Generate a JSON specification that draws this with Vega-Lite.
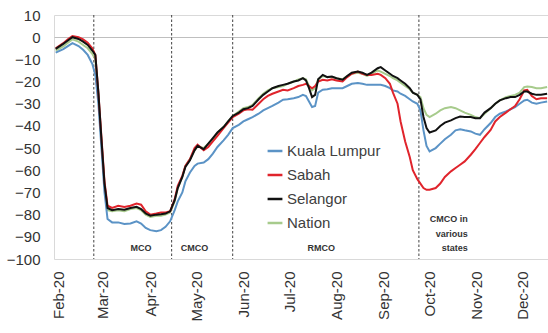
{
  "$schema": "https://vega.github.io/schema/vega-lite/v6.json",
  "width": 494,
  "height": 244,
  "autosize": "none",
  "padding": {"left": 54, "top": 15, "right": 0, "bottom": 74},
  "background": "white",
  "config": {
    "font": "Liberation Sans",
    "view": {"stroke": "#d9d9d9", "strokeWidth": 1},
    "axis": {"labelFont": "Liberation Sans", "labelColor": "#333333", "labelFontSize": 15}
  },
  "datasets": {
    "mob": [
      {"date": "2020-01-30", "Kuala Lumpur": -7, "Sabah": -5, "Selangor": -5.3, "Nation": -6},
      {"date": "2020-02-04", "Kuala Lumpur": -5.4, "Sabah": -2.7, "Selangor": -3, "Nation": -4.2},
      {"date": "2020-02-07", "Kuala Lumpur": -4, "Sabah": -1, "Selangor": -1.5, "Nation": -2.5},
      {"date": "2020-02-10", "Kuala Lumpur": -2.7, "Sabah": 0.5, "Selangor": 0, "Nation": -1},
      {"date": "2020-02-14", "Kuala Lumpur": -4, "Sabah": 0, "Selangor": -0.8, "Nation": -2},
      {"date": "2020-02-17", "Kuala Lumpur": -5.7, "Sabah": -1, "Selangor": -2, "Nation": -3.5},
      {"date": "2020-02-20", "Kuala Lumpur": -8, "Sabah": -2.5, "Selangor": -3.5, "Nation": -5},
      {"date": "2020-02-23", "Kuala Lumpur": -12, "Sabah": -5, "Selangor": -6, "Nation": -7.5},
      {"date": "2020-02-25", "Kuala Lumpur": -17, "Sabah": -8, "Selangor": -8, "Nation": -10},
      {"date": "2020-02-27", "Kuala Lumpur": -30, "Sabah": -25, "Selangor": -25, "Nation": -27},
      {"date": "2020-02-29", "Kuala Lumpur": -50, "Sabah": -45, "Selangor": -46, "Nation": -47},
      {"date": "2020-03-02", "Kuala Lumpur": -70, "Sabah": -65, "Selangor": -66, "Nation": -67},
      {"date": "2020-03-04", "Kuala Lumpur": -82, "Sabah": -76, "Selangor": -77, "Nation": -78},
      {"date": "2020-03-07", "Kuala Lumpur": -83.5, "Sabah": -77, "Selangor": -78, "Nation": -78.5},
      {"date": "2020-03-11", "Kuala Lumpur": -83.5, "Sabah": -76, "Selangor": -77.5, "Nation": -78},
      {"date": "2020-03-15", "Kuala Lumpur": -84.2, "Sabah": -76.5, "Selangor": -77.8, "Nation": -78.5},
      {"date": "2020-03-19", "Kuala Lumpur": -84, "Sabah": -76, "Selangor": -77, "Nation": -77.5},
      {"date": "2020-03-23", "Kuala Lumpur": -83, "Sabah": -75, "Selangor": -76.5, "Nation": -77},
      {"date": "2020-03-26", "Kuala Lumpur": -84, "Sabah": -75.5, "Selangor": -77.5, "Nation": -78},
      {"date": "2020-03-29", "Kuala Lumpur": -86, "Sabah": -78.5, "Selangor": -79.5, "Nation": -80},
      {"date": "2020-04-01", "Kuala Lumpur": -87, "Sabah": -80, "Selangor": -80.5, "Nation": -81},
      {"date": "2020-04-05", "Kuala Lumpur": -87.5, "Sabah": -79.5, "Selangor": -80, "Nation": -80.5},
      {"date": "2020-04-08", "Kuala Lumpur": -87, "Sabah": -79, "Selangor": -79.8, "Nation": -80.5},
      {"date": "2020-04-11", "Kuala Lumpur": -85.5, "Sabah": -79, "Selangor": -79.5, "Nation": -80},
      {"date": "2020-04-14", "Kuala Lumpur": -83, "Sabah": -78.5, "Selangor": -78.5, "Nation": -79},
      {"date": "2020-04-17", "Kuala Lumpur": -78, "Sabah": -73, "Selangor": -73.5, "Nation": -74},
      {"date": "2020-04-19", "Kuala Lumpur": -74, "Sabah": -67, "Selangor": -68, "Nation": -68},
      {"date": "2020-04-22", "Kuala Lumpur": -70, "Sabah": -62.5, "Selangor": -63, "Nation": -63},
      {"date": "2020-04-24", "Kuala Lumpur": -65, "Sabah": -58, "Selangor": -58.5, "Nation": -58},
      {"date": "2020-04-27", "Kuala Lumpur": -61, "Sabah": -55, "Selangor": -55.5, "Nation": -55},
      {"date": "2020-04-30", "Kuala Lumpur": -58, "Sabah": -50, "Selangor": -51, "Nation": -51},
      {"date": "2020-05-02", "Kuala Lumpur": -57, "Sabah": -48.5, "Selangor": -49, "Nation": -49},
      {"date": "2020-05-06", "Kuala Lumpur": -56.5, "Sabah": -51, "Selangor": -50.5, "Nation": -50},
      {"date": "2020-05-09", "Kuala Lumpur": -55, "Sabah": -49.5, "Selangor": -48, "Nation": -48},
      {"date": "2020-05-12", "Kuala Lumpur": -52.5, "Sabah": -47, "Selangor": -45.5, "Nation": -46},
      {"date": "2020-05-15", "Kuala Lumpur": -49.5, "Sabah": -44.5, "Selangor": -43, "Nation": -43},
      {"date": "2020-05-19", "Kuala Lumpur": -46.5, "Sabah": -41, "Selangor": -40.5, "Nation": -40.5},
      {"date": "2020-05-22", "Kuala Lumpur": -44, "Sabah": -38.5, "Selangor": -38, "Nation": -38},
      {"date": "2020-05-25", "Kuala Lumpur": -41, "Sabah": -36, "Selangor": -35.5, "Nation": -35.5},
      {"date": "2020-05-29", "Kuala Lumpur": -39.5, "Sabah": -34.5, "Selangor": -34, "Nation": -33.5},
      {"date": "2020-06-01", "Kuala Lumpur": -38, "Sabah": -33, "Selangor": -32.5, "Nation": -32},
      {"date": "2020-06-04", "Kuala Lumpur": -37, "Sabah": -32.5, "Selangor": -32, "Nation": -31.5},
      {"date": "2020-06-07", "Kuala Lumpur": -36, "Sabah": -32.7, "Selangor": -31, "Nation": -30.5},
      {"date": "2020-06-11", "Kuala Lumpur": -34.5, "Sabah": -30, "Selangor": -28, "Nation": -27.5},
      {"date": "2020-06-14", "Kuala Lumpur": -33, "Sabah": -28, "Selangor": -26, "Nation": -25.5},
      {"date": "2020-06-17", "Kuala Lumpur": -32, "Sabah": -26.5, "Selangor": -24.5, "Nation": -24},
      {"date": "2020-06-20", "Kuala Lumpur": -31, "Sabah": -25.5, "Selangor": -23, "Nation": -23},
      {"date": "2020-06-24", "Kuala Lumpur": -29.5, "Sabah": -24.5, "Selangor": -22, "Nation": -22.5},
      {"date": "2020-06-27", "Kuala Lumpur": -28.2, "Sabah": -23.7, "Selangor": -21.5, "Nation": -22},
      {"date": "2020-06-30", "Kuala Lumpur": -28, "Sabah": -24, "Selangor": -21, "Nation": -21},
      {"date": "2020-07-04", "Kuala Lumpur": -27.5, "Sabah": -23, "Selangor": -20, "Nation": -20},
      {"date": "2020-07-07", "Kuala Lumpur": -27, "Sabah": -22, "Selangor": -19.5, "Nation": -19},
      {"date": "2020-07-10", "Kuala Lumpur": -26, "Sabah": -21.5, "Selangor": -18.5, "Nation": -18.5},
      {"date": "2020-07-12", "Kuala Lumpur": -26.5, "Sabah": -21, "Selangor": -19.5, "Nation": -19},
      {"date": "2020-07-14", "Kuala Lumpur": -29, "Sabah": -22, "Selangor": -23, "Nation": -22},
      {"date": "2020-07-16", "Kuala Lumpur": -31.5, "Sabah": -23, "Selangor": -27, "Nation": -24},
      {"date": "2020-07-18", "Kuala Lumpur": -31, "Sabah": -22, "Selangor": -26, "Nation": -23},
      {"date": "2020-07-20", "Kuala Lumpur": -25, "Sabah": -20, "Selangor": -19, "Nation": -19},
      {"date": "2020-07-23", "Kuala Lumpur": -23.7, "Sabah": -19.2, "Selangor": -17, "Nation": -17.5},
      {"date": "2020-07-26", "Kuala Lumpur": -23.5, "Sabah": -19.5, "Selangor": -18, "Nation": -18},
      {"date": "2020-07-29", "Kuala Lumpur": -23, "Sabah": -19, "Selangor": -17.7, "Nation": -18},
      {"date": "2020-08-01", "Kuala Lumpur": -23, "Sabah": -19.5, "Selangor": -18.5, "Nation": -18.5},
      {"date": "2020-08-05", "Kuala Lumpur": -23, "Sabah": -20, "Selangor": -19.2, "Nation": -19},
      {"date": "2020-08-08", "Kuala Lumpur": -22, "Sabah": -18, "Selangor": -17.5, "Nation": -17.5},
      {"date": "2020-08-11", "Kuala Lumpur": -21, "Sabah": -16.5, "Selangor": -16, "Nation": -16.5},
      {"date": "2020-08-15", "Kuala Lumpur": -20.7, "Sabah": -15.5, "Selangor": -15.5, "Nation": -16},
      {"date": "2020-08-18", "Kuala Lumpur": -21, "Sabah": -16.5, "Selangor": -16, "Nation": -16.5},
      {"date": "2020-08-21", "Kuala Lumpur": -21.5, "Sabah": -17, "Selangor": -17, "Nation": -17.5},
      {"date": "2020-08-24", "Kuala Lumpur": -21.5, "Sabah": -17, "Selangor": -16, "Nation": -16.5},
      {"date": "2020-08-28", "Kuala Lumpur": -21.5, "Sabah": -16.5, "Selangor": -14, "Nation": -15},
      {"date": "2020-08-30", "Kuala Lumpur": -21.5, "Sabah": -17, "Selangor": -13.5, "Nation": -15.5},
      {"date": "2020-09-02", "Kuala Lumpur": -22, "Sabah": -18.5, "Selangor": -15, "Nation": -16.5},
      {"date": "2020-09-05", "Kuala Lumpur": -23, "Sabah": -21, "Selangor": -16.5, "Nation": -17.5},
      {"date": "2020-09-07", "Kuala Lumpur": -24, "Sabah": -25, "Selangor": -17.5, "Nation": -18.5},
      {"date": "2020-09-10", "Kuala Lumpur": -24.5, "Sabah": -30, "Selangor": -18.5, "Nation": -19.5},
      {"date": "2020-09-12", "Kuala Lumpur": -25.5, "Sabah": -38, "Selangor": -19.5, "Nation": -20.5},
      {"date": "2020-09-15", "Kuala Lumpur": -26.5, "Sabah": -47, "Selangor": -21, "Nation": -22},
      {"date": "2020-09-18", "Kuala Lumpur": -28, "Sabah": -54, "Selangor": -23, "Nation": -23.5},
      {"date": "2020-09-20", "Kuala Lumpur": -29, "Sabah": -60, "Selangor": -25, "Nation": -25},
      {"date": "2020-09-23", "Kuala Lumpur": -30, "Sabah": -64, "Selangor": -26, "Nation": -26},
      {"date": "2020-09-25", "Kuala Lumpur": -33, "Sabah": -66, "Selangor": -28, "Nation": -27},
      {"date": "2020-09-27", "Kuala Lumpur": -42, "Sabah": -68, "Selangor": -36, "Nation": -32},
      {"date": "2020-09-29", "Kuala Lumpur": -49, "Sabah": -68.8, "Selangor": -41, "Nation": -35},
      {"date": "2020-10-01", "Kuala Lumpur": -51.5, "Sabah": -68.8, "Selangor": -43, "Nation": -36},
      {"date": "2020-10-05", "Kuala Lumpur": -50, "Sabah": -68, "Selangor": -42, "Nation": -34.5},
      {"date": "2020-10-08", "Kuala Lumpur": -48, "Sabah": -66, "Selangor": -40, "Nation": -33},
      {"date": "2020-10-11", "Kuala Lumpur": -46, "Sabah": -63, "Selangor": -38.5, "Nation": -32},
      {"date": "2020-10-15", "Kuala Lumpur": -44, "Sabah": -60.5, "Selangor": -37.5, "Nation": -31.5},
      {"date": "2020-10-18", "Kuala Lumpur": -42, "Sabah": -59, "Selangor": -36.5, "Nation": -32},
      {"date": "2020-10-21", "Kuala Lumpur": -41.5, "Sabah": -57.5, "Selangor": -35.8, "Nation": -33},
      {"date": "2020-10-24", "Kuala Lumpur": -42, "Sabah": -56, "Selangor": -36, "Nation": -34},
      {"date": "2020-10-28", "Kuala Lumpur": -42.5, "Sabah": -53, "Selangor": -36, "Nation": -35},
      {"date": "2020-10-31", "Kuala Lumpur": -43.5, "Sabah": -50.5, "Selangor": -36.5, "Nation": -36},
      {"date": "2020-11-03", "Kuala Lumpur": -44, "Sabah": -47.7, "Selangor": -36.5, "Nation": -36.5},
      {"date": "2020-11-06", "Kuala Lumpur": -41.5, "Sabah": -45, "Selangor": -34, "Nation": -34.5},
      {"date": "2020-11-10", "Kuala Lumpur": -38.7, "Sabah": -41.8, "Selangor": -32, "Nation": -32},
      {"date": "2020-11-13", "Kuala Lumpur": -36, "Sabah": -38, "Selangor": -30, "Nation": -30},
      {"date": "2020-11-16", "Kuala Lumpur": -34.5, "Sabah": -36, "Selangor": -28.5, "Nation": -28.5},
      {"date": "2020-11-20", "Kuala Lumpur": -33.5, "Sabah": -34, "Selangor": -27.5, "Nation": -27},
      {"date": "2020-11-23", "Kuala Lumpur": -32.5, "Sabah": -32.5, "Selangor": -27, "Nation": -26.5},
      {"date": "2020-11-26", "Kuala Lumpur": -31.5, "Sabah": -31, "Selangor": -27, "Nation": -26},
      {"date": "2020-11-29", "Kuala Lumpur": -30, "Sabah": -28, "Selangor": -26, "Nation": -25},
      {"date": "2020-12-02", "Kuala Lumpur": -28.5, "Sabah": -24, "Selangor": -24.5, "Nation": -22.5},
      {"date": "2020-12-04", "Kuala Lumpur": -28.2, "Sabah": -23.7, "Selangor": -24.5, "Nation": -22.2},
      {"date": "2020-12-07", "Kuala Lumpur": -29.5, "Sabah": -26.5, "Selangor": -25.5, "Nation": -22.5},
      {"date": "2020-12-10", "Kuala Lumpur": -30, "Sabah": -28, "Selangor": -26, "Nation": -23},
      {"date": "2020-12-13", "Kuala Lumpur": -29.5, "Sabah": -27.5, "Selangor": -26, "Nation": -23},
      {"date": "2020-12-17", "Kuala Lumpur": -29, "Sabah": -27.5, "Selangor": -25.5, "Nation": -22.5}
    ],
    "events": [
      {"date": "2020-02-24", "phase": "MCO"},
      {"date": "2020-04-15", "phase": "CMCO"},
      {"date": "2020-05-25", "phase": "RMCO"},
      {"date": "2020-09-24", "phase": "CMCO in various states"}
    ],
    "labels": [
      {"date": "2020-03-26", "value": -95, "label": "MCO"},
      {"date": "2020-04-30", "value": -95, "label": "CMCO"},
      {"date": "2020-07-22", "value": -95, "label": "RMCO"}
    ],
    "labels2": [
      {"date": "2020-10-26", "value": -80.2, "label": "CMCO in\nvarious\nstates"}
    ]
  },
  "encoding": {
    "y": {
      "field": "value",
      "type": "quantitative",
      "scale": {"domain": [-100, 10], "nice": false, "zero": false},
      "axis": {
        "title": null,
        "values": [10, 0, -10, -20, -30, -40, -50, -60, -70, -80, -90, -100],
        "tickCount": 12,
        "labelPadding": 14,
        "labelOverlap": false,
        "labelFlush": false,
        "ticks": false,
        "domain": false,
        "grid": true,
        "gridColor": {"condition": {"test": "datum.value === 0", "value": "#bfbfbf"}, "value": "transparent"},
        "gridWidth": 1.2
      }
    }
  },
  "layer": [
    {
      "data": {"name": "events"},
      "mark": {"type": "rule", "color": "#404040", "strokeWidth": 1, "strokeDash": [2.5, 2]},
      "encoding": {
        "x": {"field": "date", "type": "temporal"},
        "y": null
      }
    },
    {
      "data": {"name": "mob"},
      "transform": [
        {"fold": ["Nation", "Kuala Lumpur", "Sabah", "Selangor"], "as": ["series", "value"]}
      ],
      "mark": {"type": "line", "strokeWidth": 2, "interpolate": "linear"},
      "encoding": {
        "x": {
          "field": "date",
          "type": "temporal",
          "scale": {
            "type": "utc",
            "domain": [
              {"utc": true, "year": 2020, "month": 1, "date": 28, "hours": 22},
              {"utc": true, "year": 2020, "month": 12, "date": 17, "hours": 14}
            ]
          },
          "axis": {
            "title": null,
            "format": "%b-%y",
            "tickCount": {"interval": "month", "step": 1},
            "labelAngle": 270,
            "labelAlign": "right",
            "labelBaseline": "middle",
            "labelPadding": 12,
            "ticks": false,
            "domain": false,
            "grid": false,
            "labelOverlap": false,
            "labelFlush": false
          }
        },
        "color": {
          "field": "series",
          "type": "nominal",
          "scale": {
            "domain": ["Kuala Lumpur", "Sabah", "Selangor", "Nation"],
            "range": ["#5b93c6", "#e0242c", "#111111", "#a7cb8c"]
          },
          "legend": {
            "title": null,
            "orient": "none",
            "legendX": 212,
            "legendY": 127,
            "padding": 0,
            "symbolType": "stroke",
            "symbolStrokeWidth": 2.5,
            "symbolSize": 220,
            "labelFontSize": 15,
            "labelColor": "#404040",
            "labelFont": "Liberation Sans",
            "labelOffset": 3,
            "rowPadding": 7
          }
        }
      }
    },
    {
      "data": {"name": "labels"},
      "mark": {"type": "text", "fontSize": 9, "fontWeight": "bold", "color": "#333333", "align": "center", "baseline": "middle", "font": "Liberation Sans"},
      "encoding": {
        "x": {"field": "date", "type": "temporal"},
        "text": {"field": "label"}
      }
    },
    {
      "data": {"name": "labels2"},
      "mark": {"type": "text", "fontSize": 9, "fontWeight": "bold", "color": "#333333", "align": "right", "baseline": "top", "lineBreak": "\n", "lineHeight": 14.5, "font": "Liberation Sans"},
      "encoding": {
        "x": {"field": "date", "type": "temporal"},
        "text": {"field": "label"}
      }
    }
  ]
}
